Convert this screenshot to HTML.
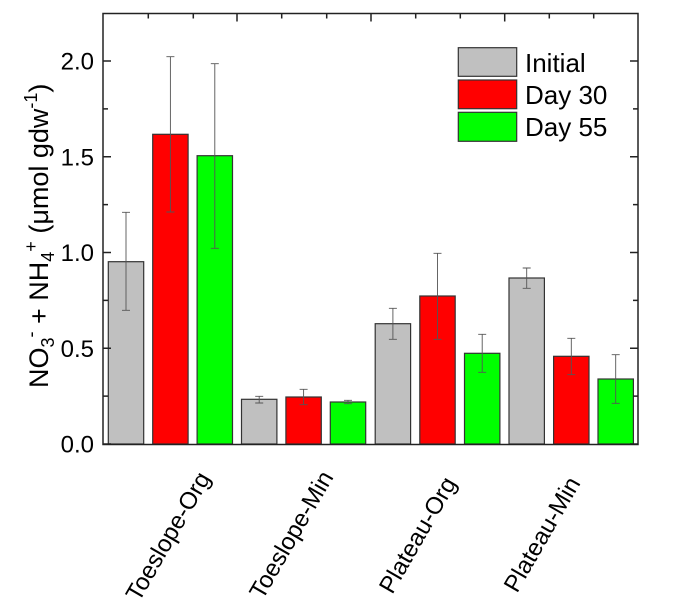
<!DOCTYPE html>
<html><head><meta charset="utf-8"><style>body{margin:0;background:#fff}svg{display:block}</style></head>
<body>
<svg width="674" height="602" viewBox="0 0 674 602" xmlns="http://www.w3.org/2000/svg" font-family="Liberation Sans, sans-serif">
<g stroke="#333" stroke-width="1.2">
<rect x="108.3" y="261.7" width="35.4" height="182.3" fill="#c0c0c0"/>
<rect x="152.7" y="134.3" width="35.4" height="309.7" fill="#ff0000"/>
<rect x="197.1" y="155.7" width="35.4" height="288.3" fill="#00ff00"/>
<rect x="241.5" y="399.3" width="35.4" height="44.7" fill="#c0c0c0"/>
<rect x="285.9" y="397" width="35.4" height="47" fill="#ff0000"/>
<rect x="330.3" y="402" width="35.4" height="42" fill="#00ff00"/>
<rect x="375.2" y="323.7" width="35.4" height="120.3" fill="#c0c0c0"/>
<rect x="419.8" y="296" width="35.4" height="148" fill="#ff0000"/>
<rect x="464.5" y="353.3" width="35.4" height="90.7" fill="#00ff00"/>
<rect x="509" y="278" width="35.4" height="166" fill="#c0c0c0"/>
<rect x="553.6" y="356.3" width="35.4" height="87.7" fill="#ff0000"/>
<rect x="598" y="379" width="35.4" height="65" fill="#00ff00"/>
</g>
<g stroke="#555" stroke-width="0.9" fill="none">
<path d="M126,212.3V310.3M122,212.3h8M122,310.3h8"/>
<path d="M170.4,56.7V212M166.4,56.7h8M166.4,212h8"/>
<path d="M214.8,63.7V248.3M210.8,63.7h8M210.8,248.3h8"/>
<path d="M259.2,396.3V403M255.2,396.3h8M255.2,403h8"/>
<path d="M303.6,389.3V404.7M299.6,389.3h8M299.6,404.7h8"/>
<path d="M348,400.3V403.7M344,400.3h8M344,403.7h8"/>
<path d="M392.9,308.3V339.3M388.9,308.3h8M388.9,339.3h8"/>
<path d="M437.5,253.3V339.3M433.5,253.3h8M433.5,339.3h8"/>
<path d="M482.2,334.3V372.3M478.2,334.3h8M478.2,372.3h8"/>
<path d="M526.7,268V288.3M522.7,268h8M522.7,288.3h8"/>
<path d="M571.3,338.3V374.7M567.3,338.3h8M567.3,374.7h8"/>
<path d="M615.7,354.7V403.3M611.7,354.7h8M611.7,403.3h8"/>
</g>
<g stroke="#222" stroke-width="1.5" fill="none">
<rect x="103" y="13.5" width="535" height="431"/>
<path d="M103,444h8M103,348.25h8M103,252.5h8M103,156.75h8M103,61h8M103,396.1h5M103,300.4h5M103,204.6h5M103,108.9h5"/>
<path d="M638,444h-8M638,348.25h-8M638,252.5h-8M638,156.75h-8M638,61h-8M638,396.1h-5M638,300.4h-5M638,204.6h-5M638,108.9h-5"/>
<path d="M237,13.5v8M371,13.5v8M504.7,13.5v8M148.3,13.5v5M193.3,13.5v5M281.7,13.5v5M326.7,13.5v5M415.7,13.5v5M460.3,13.5v5M549.3,13.5v5M593.7,13.5v5"/>
</g>
<g font-size="24" fill="#000" text-anchor="end">
<text x="94" y="452.5">0.0</text>
<text x="94" y="357">0.5</text>
<text x="94" y="261">1.0</text>
<text x="94" y="165.5">1.5</text>
<text x="94" y="69.5">2.0</text>
</g>
<g stroke="#333" stroke-width="1.2">
<rect x="458.3" y="47.7" width="58.4" height="28.6" fill="#c0c0c0"/>
<rect x="458.3" y="80" width="58.4" height="28.7" fill="#ff0000"/>
<rect x="458.3" y="112.3" width="58.4" height="29" fill="#00ff00"/>
</g>
<g font-size="26" fill="#000">
<text x="525" y="72">Initial</text>
<text x="525" y="104">Day 30</text>
<text x="525" y="136">Day 55</text>
</g>
<g font-size="24" fill="#000" text-anchor="end">
<text transform="translate(211,478) rotate(-60)">Toeslope-Org</text>
<text transform="translate(334,477) rotate(-60)">Toeslope-Min</text>
<text transform="translate(457,483) rotate(-60)">Plateau-Org</text>
<text transform="translate(581,483) rotate(-60)">Plateau-Min</text>
</g>
<text transform="translate(48,388) rotate(-90)" font-size="27" fill="#000">NO<tspan font-size="18" dy="6">3</tspan><tspan font-size="18" dy="-17">-</tspan><tspan dy="11"> + NH</tspan><tspan font-size="18" dy="6">4</tspan><tspan font-size="18" dy="-17">+</tspan><tspan dy="11"> (μmol gdw</tspan><tspan font-size="18" dy="-11">-1</tspan><tspan dy="11">)</tspan></text>
</svg>
</body></html>
